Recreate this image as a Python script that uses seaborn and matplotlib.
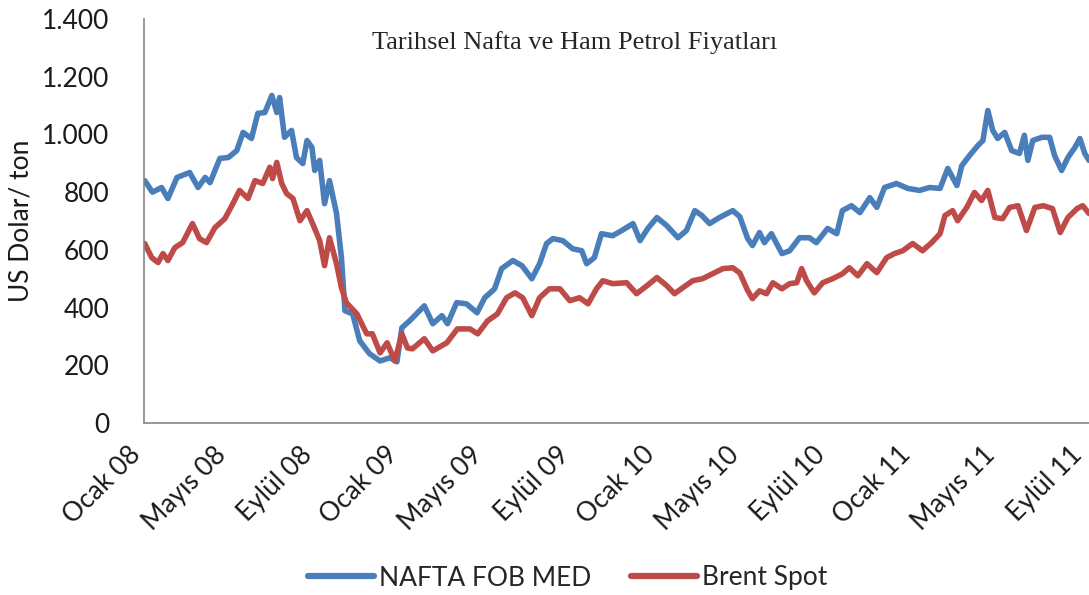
import pandas as pd
import matplotlib
matplotlib.use('Agg')
import matplotlib.pyplot as plt
import matplotlib.ticker as mticker
import matplotlib.transforms as mtransforms
import seaborn as sns

# Nafta FOB MED, USD/ton
nafta_dates = ['2008-01-02', '2008-01-13', '2008-01-26', '2008-02-04', '2008-02-17', '2008-03-06',
               '2008-03-18', '2008-03-28', '2008-04-04', '2008-04-18', '2008-04-30', '2008-05-12',
               '2008-05-21', '2008-06-02', '2008-06-11', '2008-06-21', '2008-07-01', '2008-07-08',
               '2008-07-12', '2008-07-19', '2008-07-29', '2008-08-05', '2008-08-14', '2008-08-20',
               '2008-08-27', '2008-08-31', '2008-09-07', '2008-09-14', '2008-09-21', '2008-10-01',
               '2008-10-08', '2008-10-13', '2008-10-24', '2008-11-03', '2008-11-17', '2008-12-02',
               '2008-12-16', '2008-12-26', '2009-01-02', '2009-01-13', '2009-02-03', '2009-02-15',
               '2009-02-28', '2009-03-08', '2009-03-21', '2009-04-04', '2009-04-19', '2009-04-30',
               '2009-05-14', '2009-05-24', '2009-06-09', '2009-06-22', '2009-07-06', '2009-07-17',
               '2009-07-27', '2009-08-05', '2009-08-19', '2009-09-02', '2009-09-15', '2009-09-22',
               '2009-10-03', '2009-10-13', '2009-10-29', '2009-11-11', '2009-11-27', '2009-12-07',
               '2009-12-18', '2009-12-31', '2010-01-14', '2010-01-30', '2010-02-11', '2010-02-23',
               '2010-03-05', '2010-03-16', '2010-03-30', '2010-04-18', '2010-04-28', '2010-05-09',
               '2010-05-16', '2010-05-26', '2010-06-02', '2010-06-12', '2010-06-27', '2010-07-08',
               '2010-07-22', '2010-08-05', '2010-08-15', '2010-08-31', '2010-09-13', '2010-09-21',
               '2010-10-04', '2010-10-16', '2010-10-30', '2010-11-09', '2010-11-20', '2010-12-07',
               '2010-12-23', '2011-01-09', '2011-01-23', '2011-02-07', '2011-02-18', '2011-03-03',
               '2011-03-10', '2011-03-21', '2011-04-02', '2011-04-09', '2011-04-16', '2011-04-23',
               '2011-04-30', '2011-05-10', '2011-05-20', '2011-05-31', '2011-06-07', '2011-06-12',
               '2011-06-19', '2011-07-02', '2011-07-13', '2011-07-20', '2011-07-30', '2011-08-08',
               '2011-08-18', '2011-08-25', '2011-09-01', '2011-09-07']
nafta_values = [840, 800, 816, 778, 851, 868,
                816, 851, 833, 917, 920, 944,
                1007, 986, 1073, 1076, 1135, 1076,
                1128, 990, 1014, 920, 899, 979,
                955, 875, 910, 760, 840, 726,
                573, 389, 378, 285, 240, 215,
                226, 212, 330, 354, 406, 344,
                372, 344, 417, 413, 382, 434,
                465, 535, 563, 545, 500, 552,
                622, 639, 632, 604, 597, 552,
                573, 656, 649, 667, 691, 632,
                674, 712, 684, 642, 667, 736,
                719, 691, 712, 736, 715, 640,
                615, 660, 625, 656, 587, 597,
                642, 642, 625, 674, 656, 736,
                753, 729, 781, 747, 816, 830,
                813, 806, 816, 813, 882, 823,
                892, 927, 962, 979, 1083, 1014,
                986, 1007, 944, 934, 997, 910,
                979, 990, 990, 927, 875, 920,
                955, 986, 934, 910]

# Brent Spot, USD/ton
brent_dates = ['2008-01-02', '2008-01-12', '2008-01-21', '2008-01-28', '2008-02-04', '2008-02-14',
               '2008-02-25', '2008-03-10', '2008-03-20', '2008-03-30', '2008-04-11', '2008-04-25',
               '2008-05-05', '2008-05-16', '2008-05-28', '2008-06-07', '2008-06-18', '2008-06-28',
               '2008-07-02', '2008-07-08', '2008-07-15', '2008-07-22', '2008-07-31', '2008-08-10',
               '2008-08-20', '2008-08-28', '2008-09-07', '2008-09-14', '2008-09-21', '2008-10-01',
               '2008-10-08', '2008-10-15', '2008-10-30', '2008-11-13', '2008-11-21', '2008-12-02',
               '2008-12-12', '2008-12-23', '2009-01-02', '2009-01-10', '2009-01-17', '2009-02-03',
               '2009-02-15', '2009-03-07', '2009-03-22', '2009-04-09', '2009-04-20', '2009-05-04',
               '2009-05-18', '2009-05-31', '2009-06-12', '2009-06-23', '2009-07-06', '2009-07-17',
               '2009-07-31', '2009-08-15', '2009-08-29', '2009-09-12', '2009-09-24', '2009-10-06',
               '2009-10-15', '2009-10-29', '2009-11-18', '2009-12-02', '2009-12-17', '2009-12-31',
               '2010-01-14', '2010-01-25', '2010-02-06', '2010-02-20', '2010-03-06', '2010-03-20',
               '2010-04-04', '2010-04-18', '2010-04-28', '2010-05-09', '2010-05-16', '2010-05-26',
               '2010-06-05', '2010-06-14', '2010-06-27', '2010-07-08', '2010-07-18', '2010-07-25',
               '2010-08-01', '2010-08-12', '2010-08-24', '2010-09-07', '2010-09-21', '2010-10-01',
               '2010-10-13', '2010-10-26', '2010-11-09', '2010-11-23', '2010-12-04', '2010-12-16',
               '2010-12-30', '2011-01-13', '2011-01-26', '2011-02-07', '2011-02-14', '2011-02-25',
               '2011-03-04', '2011-03-17', '2011-03-28', '2011-04-07', '2011-04-16', '2011-04-26',
               '2011-05-07', '2011-05-17', '2011-05-29', '2011-06-10', '2011-06-22', '2011-07-04',
               '2011-07-17', '2011-07-28', '2011-08-08', '2011-08-21', '2011-08-29', '2011-09-07']
brent_values = [622, 573, 556, 587, 563, 608,
                625, 691, 639, 625, 677, 708,
                753, 806, 778, 840, 830, 886,
                847, 903, 830, 795, 778, 701,
                736, 691, 632, 545, 642, 552,
                469, 417, 378, 309, 309, 243,
                278, 215, 309, 260, 257, 292,
                250, 278, 326, 326, 309, 354,
                378, 434, 451, 434, 372, 434,
                465, 465, 424, 434, 413, 465,
                493, 483, 486, 448, 476, 504,
                476, 448, 469, 493, 500, 517,
                535, 538, 520, 460, 431, 458,
                448, 486, 465, 483, 486, 535,
                493, 451, 486, 500, 517, 538,
                510, 552, 521, 573, 587, 597,
                622, 597, 625, 656, 719, 736,
                701, 747, 799, 771, 806, 712,
                708, 747, 753, 667, 747, 753,
                743, 660, 712, 743, 753, 726]

series_names = ['NAFTA FOB MED', 'Brent Spot']
series_colors = ['#4A7EBB', '#BE4B48']

tick_dates = ['2008-01-01', '2008-05-01', '2008-09-01', '2009-01-01', '2009-05-01', '2009-09-01',
              '2010-01-01', '2010-05-01', '2010-09-01', '2011-01-01', '2011-05-01', '2011-09-01']
tick_labels = ['Ocak 08', 'Mayıs 08', 'Eylül 08', 'Ocak 09', 'Mayıs 09', 'Eylül 09',
               'Ocak 10', 'Mayıs 10', 'Eylül 10', 'Ocak 11', 'Mayıs 11', 'Eylül 11']

df = pd.concat([
    pd.DataFrame({'tarih': pd.to_datetime(nafta_dates), 'fiyat': nafta_values, 'seri': series_names[0]}),
    pd.DataFrame({'tarih': pd.to_datetime(brent_dates), 'fiyat': brent_values, 'seri': series_names[1]}),
])

sns.set_style('white')
plt.rcParams['font.family'] = ['Lato', 'DejaVu Sans']

fig = plt.figure(figsize=(10.89, 5.95), dpi=100)
ax = fig.add_axes([144 / 1089, 1 - 423 / 595, 945 / 1089, 404 / 595])

sns.lineplot(data=df, x='tarih', y='fiyat', hue='seri', hue_order=series_names,
             palette=series_colors, linewidth=4, estimator=None, ax=ax, legend=False)

ax.set_xlim(pd.Timestamp('2008-01-01'), pd.Timestamp('2011-09-07'))
ax.set_ylim(0, 1400)
ax.set_yticks(range(0, 1401, 200))
ax.yaxis.set_major_formatter(mticker.FuncFormatter(lambda v, p: f'{v:,.0f}'.replace(',', '.')))
ax.set_xticks(pd.to_datetime(tick_dates))
ax.set_xticklabels(tick_labels, rotation=45, ha='right', va='center', rotation_mode='anchor')

for side in ['top', 'right']:
    ax.spines[side].set_visible(False)
for side in ['left', 'bottom']:
    ax.spines[side].set_color('#868686')
    ax.spines[side].set_linewidth(1.2)
ax.tick_params(axis='both', direction='out', color='#868686', width=1.2,
               labelsize=19, labelcolor='#1a1a1a')
ax.tick_params(axis='y', length=10, pad=15)
ax.tick_params(axis='x', length=7, pad=13)

# nudge the rotated month labels a bit to the left so the last one fits
# (after tick_params, which resets the label transforms)
shift = mtransforms.ScaledTranslation(-7 / 100, 0, fig.dpi_scale_trans)
for lbl in ax.get_xticklabels():
    lbl.set_transform(lbl.get_transform() + shift)

ax.set_xlabel('')
ax.set_ylabel('US Dolar/ ton', fontsize=19, color='#1a1a1a')
ax.yaxis.set_label_coords(-(144 - 34) / 945, 0.5)

fig.text(575 / 1089, 1 - 43 / 595, 'Tarihsel Nafta ve Ham Petrol Fiyatları',
         family='Liberation Serif', fontsize=19, ha='center', va='center')

handles = [plt.Line2D([], [], color=c, linewidth=4.5) for c in series_colors]
fig.legend(handles, series_names, loc='center', bbox_to_anchor=(568 / 1089, 1 - 578 / 595),
           ncol=2, frameon=False, fontsize=19, handlelength=2.5, handletextpad=0.2,
           columnspacing=1.5)

fig.savefig('out.png', dpi=100)
